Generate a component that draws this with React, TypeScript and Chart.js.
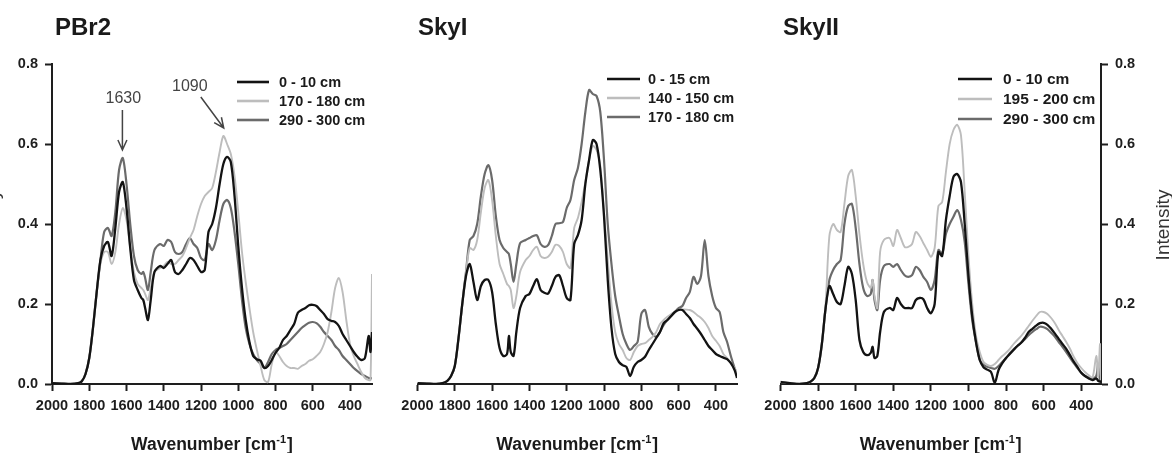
import React, { useEffect, useRef } from 'react';
import { Chart, registerables } from 'chart.js';

Chart.register(...registerables);

const FONT = '"Liberation Sans", Arial, Helvetica, sans-serif';
const PAGE_W = 1172;
const PAGE_H = 453;
const PLOT_TOP = 64;
const PLOT_BOTTOM = 384;

// Axis ticks
const WAVENUMBER_TICKS = [2000, 1800, 1600, 1400, 1200, 1000, 800, 600, 400];
const INTENSITY_TICKS = [0, 0.2, 0.4, 0.6, 0.8];

// Shared wavenumber sampling (cm-1), 2000 -> 340
const WN_COMMON = [
  2000, 1950, 1900, 1860, 1840, 1820, 1800, 1780, 1760, 1740,
  1720, 1700, 1680, 1660, 1640, 1620, 1600, 1580, 1560, 1540,
  1520, 1510, 1500, 1485, 1470, 1450, 1420, 1400, 1380, 1360,
  1340, 1320, 1300, 1280, 1260, 1240, 1220, 1200, 1180, 1160,
  1140, 1120, 1100, 1080, 1060, 1040, 1020, 1000, 980, 960,
  940, 920, 900, 880, 860, 840, 820, 800, 780, 760,
  740, 720, 700, 680, 660, 640, 620, 600, 580, 560,
  540, 520, 500, 480, 460, 440, 420, 400, 380, 360,
  340,
];
const PBR2_WN = [...WN_COMMON, 320, 300, 290, 282];
const SKYI_WN = [...WN_COMMON, 320, 300, 290, 287];
const SKYII_WN = [...WN_COMMON, 320, 310, 300, 295];

// PBr2 profile
const PBR2_0_10 = [
  0.002, 0.001, 0, 0.002, 0.007, 0.025, 0.065, 0.14, 0.23, 0.31,
  0.345, 0.355, 0.32, 0.39, 0.48, 0.505, 0.44, 0.34, 0.26, 0.235,
  0.215, 0.21, 0.19, 0.16, 0.21, 0.28, 0.295, 0.29, 0.30, 0.31,
  0.28, 0.275, 0.285, 0.30, 0.315, 0.31, 0.295, 0.28, 0.285, 0.38,
  0.40, 0.44, 0.50, 0.55, 0.568, 0.555, 0.47, 0.345, 0.24, 0.16,
  0.105, 0.07, 0.062, 0.058, 0.04, 0.045, 0.06, 0.078, 0.09, 0.11,
  0.12, 0.135, 0.15, 0.178, 0.185, 0.19, 0.197, 0.198, 0.195, 0.185,
  0.175, 0.162, 0.158, 0.155, 0.145, 0.125, 0.11, 0.095, 0.08, 0.068,
  0.06, 0.065, 0.12, 0.08, 0.13,
];
const PBR2_170_180 = [
  0.002, 0.001, 0, 0.002, 0.007, 0.025, 0.065, 0.14, 0.23, 0.30,
  0.33, 0.33, 0.30, 0.33, 0.40, 0.44, 0.41, 0.34, 0.28, 0.25,
  0.24, 0.235, 0.225, 0.21, 0.24, 0.28, 0.29, 0.295, 0.305, 0.30,
  0.30, 0.31, 0.32, 0.34, 0.365, 0.385, 0.42, 0.45, 0.47, 0.48,
  0.49, 0.53, 0.58, 0.62, 0.60, 0.575, 0.52, 0.43, 0.33, 0.255,
  0.19, 0.13, 0.085, 0.045, 0.01, 0.005, 0.05, 0.08, 0.07, 0.055,
  0.045, 0.04, 0.04, 0.038, 0.045, 0.05, 0.058, 0.062, 0.07, 0.08,
  0.10, 0.13, 0.18, 0.24, 0.265, 0.23, 0.16, 0.10, 0.07, 0.05,
  0.03, 0.015, 0.01, 0.01, 0.275,
];
const PBR2_290_300 = [
  0.002, 0.001, 0, 0.002, 0.007, 0.025, 0.065, 0.14, 0.23, 0.31,
  0.38, 0.39, 0.37, 0.43, 0.535, 0.565, 0.50, 0.40, 0.32, 0.285,
  0.275, 0.28, 0.265, 0.235, 0.28, 0.335, 0.35, 0.345, 0.36, 0.355,
  0.33, 0.325, 0.33, 0.35, 0.365, 0.35, 0.34, 0.315, 0.31, 0.35,
  0.335, 0.36, 0.41, 0.45, 0.46, 0.44, 0.38, 0.30, 0.21, 0.14,
  0.10, 0.075, 0.06, 0.05, 0.04, 0.055, 0.075, 0.085, 0.09, 0.095,
  0.10, 0.11, 0.12, 0.13, 0.14, 0.147, 0.153, 0.155, 0.152, 0.143,
  0.13, 0.12, 0.11, 0.095, 0.085, 0.07, 0.06, 0.05, 0.04, 0.032,
  0.025, 0.02, 0.015, 0.014, 0.015,
];

// SkyI profile
const SKYI_0_15 = [
  0.002, 0.001, 0, 0.003, 0.008, 0.02, 0.045, 0.115, 0.2, 0.27,
  0.30, 0.255, 0.21, 0.245, 0.26, 0.26, 0.23, 0.15, 0.09, 0.07,
  0.075, 0.12, 0.08, 0.07, 0.13, 0.19, 0.22, 0.225, 0.245, 0.262,
  0.235, 0.228, 0.226, 0.245, 0.268, 0.272, 0.245, 0.215, 0.21, 0.35,
  0.372, 0.41, 0.50, 0.56, 0.61, 0.60, 0.535, 0.42, 0.26, 0.14,
  0.075, 0.055, 0.047, 0.043, 0.02, 0.043, 0.055, 0.06, 0.068, 0.085,
  0.1, 0.115, 0.13, 0.152, 0.16, 0.17, 0.18, 0.185, 0.185, 0.175,
  0.165, 0.15, 0.138, 0.125, 0.11, 0.095, 0.085, 0.075, 0.07, 0.066,
  0.062, 0.052, 0.035, 0.02, 0.015,
];
const SKYI_140_150 = [
  0.002, 0.001, 0, 0.003, 0.008, 0.02, 0.045, 0.115, 0.2, 0.28,
  0.34, 0.335, 0.36, 0.43, 0.49, 0.51, 0.46, 0.37, 0.30, 0.275,
  0.25, 0.245, 0.235, 0.19, 0.22, 0.28, 0.31, 0.32, 0.335, 0.343,
  0.32, 0.315, 0.318, 0.33, 0.348, 0.345, 0.33, 0.30, 0.29, 0.39,
  0.415, 0.455, 0.505, 0.56, 0.595, 0.585, 0.545, 0.43, 0.31, 0.2,
  0.13, 0.1, 0.085, 0.065, 0.06, 0.08, 0.095, 0.1, 0.102, 0.11,
  0.118, 0.13, 0.15, 0.16, 0.168, 0.175, 0.18, 0.185, 0.186, 0.186,
  0.185, 0.18, 0.172, 0.165, 0.155, 0.14, 0.12, 0.108, 0.095, 0.075,
  0.065, 0.052, 0.04, 0.03, 0.02,
];
const SKYI_170_180 = [
  0.002, 0.001, 0, 0.003, 0.008, 0.02, 0.045, 0.115, 0.2, 0.28,
  0.36, 0.37, 0.40, 0.47, 0.525, 0.547, 0.51, 0.42, 0.36, 0.34,
  0.33, 0.325, 0.30, 0.255, 0.30, 0.352, 0.36, 0.365, 0.37, 0.372,
  0.35, 0.343, 0.347, 0.37, 0.40, 0.402, 0.405, 0.44, 0.46, 0.51,
  0.54, 0.60, 0.68, 0.735, 0.725, 0.72, 0.68, 0.56, 0.40, 0.30,
  0.22, 0.17, 0.125, 0.1, 0.085, 0.095, 0.105, 0.175, 0.185, 0.143,
  0.125, 0.118, 0.13, 0.148, 0.16, 0.17, 0.18, 0.19, 0.195, 0.215,
  0.23, 0.268, 0.25, 0.27, 0.36, 0.27, 0.22, 0.19, 0.18, 0.13,
  0.105, 0.07, 0.04, 0.025, 0.02,
];

// SkyII profile
const SKYII_0_10 = [
  0.005, 0.002, 0, 0.002, 0.006, 0.015, 0.04, 0.1, 0.19, 0.245,
  0.225, 0.205, 0.2, 0.245, 0.293, 0.275, 0.21, 0.11, 0.08, 0.072,
  0.078, 0.093, 0.065, 0.07, 0.13, 0.18, 0.19, 0.185, 0.215, 0.2,
  0.19, 0.19, 0.19, 0.21, 0.215, 0.212, 0.19, 0.177, 0.2, 0.33,
  0.32, 0.41, 0.47, 0.518, 0.525, 0.505, 0.40, 0.27, 0.17, 0.105,
  0.06, 0.042, 0.036, 0.03, 0.003, 0.035, 0.052, 0.065, 0.075, 0.085,
  0.095, 0.103, 0.115, 0.13, 0.138, 0.146, 0.152, 0.153, 0.148, 0.138,
  0.126, 0.113, 0.1, 0.088, 0.072, 0.056, 0.042, 0.028, 0.02, 0.014,
  0.01, 0.014, 0.008, 0.006, 0.005,
];
const SKYII_195_200 = [
  0.005, 0.002, 0, 0.002, 0.006, 0.015, 0.04, 0.1, 0.2, 0.37,
  0.40, 0.385, 0.38, 0.45, 0.52, 0.535, 0.47, 0.375, 0.30, 0.255,
  0.24, 0.26, 0.22, 0.19, 0.33, 0.36, 0.365, 0.345, 0.385, 0.365,
  0.343, 0.343, 0.35, 0.38, 0.37, 0.352, 0.335, 0.318, 0.34, 0.445,
  0.455, 0.53, 0.6, 0.635, 0.648, 0.622, 0.48, 0.32, 0.2, 0.12,
  0.08, 0.055, 0.048, 0.045, 0.05, 0.06, 0.07, 0.078, 0.088, 0.1,
  0.11, 0.12, 0.132, 0.145, 0.158, 0.17, 0.18, 0.18, 0.175, 0.165,
  0.152, 0.135, 0.12, 0.105, 0.088, 0.068, 0.052, 0.04, 0.03, 0.022,
  0.016, 0.07, 0.02, 0.1, 0.01,
];
const SKYII_290_300 = [
  0.005, 0.002, 0, 0.002, 0.006, 0.015, 0.04, 0.1, 0.19, 0.26,
  0.285, 0.30, 0.31, 0.40, 0.445, 0.45, 0.39, 0.30, 0.24, 0.22,
  0.225, 0.26, 0.21, 0.185, 0.26, 0.295, 0.30, 0.293, 0.30, 0.285,
  0.272, 0.268, 0.272, 0.293, 0.285, 0.268, 0.255, 0.235, 0.26, 0.335,
  0.325, 0.375, 0.40, 0.418, 0.435, 0.41, 0.355, 0.25, 0.16, 0.105,
  0.06, 0.048, 0.043, 0.04, 0.038, 0.045, 0.055, 0.065, 0.077, 0.087,
  0.095, 0.103, 0.112, 0.122, 0.13, 0.137, 0.143, 0.142, 0.137, 0.128,
  0.118, 0.105, 0.093, 0.08, 0.066, 0.052, 0.04, 0.028, 0.02, 0.016,
  0.013, 0.02, 0.05, 0.008, 0.005,
];

// Band markers on the PBr2 panel (data coordinates)
const PBR2_MARKERS = [
  { text: '1630', labelX: 1617, labelY: 0.714, fromX: 1622, fromY: 0.685, toX: 1622, toY: 0.585 },
  { text: '1090', labelX: 1260, labelY: 0.744, fromX: 1201, fromY: 0.7175, toX: 1078, toY: 0.64 },
];

// Line styles for the three depth series (top, middle, deep)
const SERIES_STYLES = [
  { color: '#131313', width: 2.3 },
  { color: '#bdbdbd', width: 1.9 },
  { color: '#6b6b6b', width: 2.2 },
];

type Series = { label: string; values: number[] };
type Legend = { lineFrom: number; lineTo: number; textX: number; rowsY: number[]; fontSize: number };
type Marker = typeof PBR2_MARKERS[number];
type PanelSpec = {
  key: string;
  title: string;
  titleX: number;
  canvasLeft: number;
  canvasWidth: number;
  padLeft: number;
  padRight: number;
  yAxis: 'left' | 'right' | 'none';
  yAxisWidth: number;
  xMin: number;
  wn: number[];
  series: Series[];
  legend: Legend;
  markers?: Marker[];
  sideTitleX?: number;
};

const PANELS: PanelSpec[] = [
  {
    key: 'pbr2', title: 'PBr2', titleX: 55,
    canvasLeft: 0, canvasWidth: 390, padLeft: 0, padRight: 18,
    yAxis: 'left', yAxisWidth: 52, xMin: 282, wn: PBR2_WN,
    series: [
      { label: '0 - 10 cm', values: PBR2_0_10 },
      { label: '170 - 180 cm', values: PBR2_170_180 },
      { label: '290 - 300 cm', values: PBR2_290_300 },
    ],
    legend: { lineFrom: 237, lineTo: 269, textX: 279, rowsY: [82, 101, 120], fontSize: 14.5 },
    markers: PBR2_MARKERS,
    sideTitleX: -1,
  },
  {
    key: 'skyi', title: 'SkyI', titleX: 28,
    canvasLeft: 390, canvasWidth: 380, padLeft: 27.5, padRight: 33,
    yAxis: 'none', yAxisWidth: 0, xMin: 287, wn: SKYI_WN,
    series: [
      { label: '0 - 15 cm', values: SKYI_0_15 },
      { label: '140 - 150 cm', values: SKYI_140_150 },
      { label: '170 - 180 cm', values: SKYI_170_180 },
    ],
    legend: { lineFrom: 217, lineTo: 250, textX: 258, rowsY: [79, 98, 117], fontSize: 14.5 },
  },
  {
    key: 'skyii', title: 'SkyII', titleX: 38,
    canvasLeft: 745, canvasWidth: 427, padLeft: 35.5, padRight: 0,
    yAxis: 'right', yAxisWidth: 71, xMin: 295, wn: SKYII_WN,
    series: [
      { label: '0 - 10 cm', values: SKYII_0_10 },
      { label: '195 - 200 cm', values: SKYII_195_200 },
      { label: '290 - 300 cm', values: SKYII_290_300 },
    ],
    legend: { lineFrom: 213, lineTo: 247, textX: 258, rowsY: [79, 99, 119], fontSize: 15.5 },
    sideTitleX: 424,
  },
];

const AXIS_COLOR = '#1e1e1e';
const TEXT_COLOR = '#1a1a1a';

function drawArrow(ctx: CanvasRenderingContext2D, x0: number, y0: number, x1: number, y1: number) {
  const dx = x1 - x0;
  const dy = y1 - y0;
  const len = Math.hypot(dx, dy) || 1;
  const ux = dx / len;
  const uy = dy / len;
  const px = -uy;
  const py = ux;
  ctx.beginPath();
  ctx.moveTo(x0, y0);
  ctx.lineTo(x1, y1);
  ctx.moveTo(x1 - ux * 10 + px * 4.5, y1 - uy * 10 + py * 4.5);
  ctx.lineTo(x1, y1);
  ctx.lineTo(x1 - ux * 10 - px * 4.5, y1 - uy * 10 - py * 4.5);
  ctx.stroke();
}

function drawSideTitle(ctx: CanvasRenderingContext2D, x: number, y: number) {
  ctx.save();
  ctx.translate(x, y);
  ctx.rotate(-Math.PI / 2);
  ctx.font = `19px ${FONT}`;
  ctx.fillStyle = '#333';
  ctx.textAlign = 'center';
  ctx.textBaseline = 'alphabetic';
  ctx.fillText('Intensity', 0, 0);
  ctx.restore();
}

function drawWavenumberTitle(ctx: CanvasRenderingContext2D, cx: number, baseline: number) {
  const main = 'Wavenumber [cm';
  const sup = '-1';
  const end = ']';
  const mainFont = `bold 17.5px ${FONT}`;
  const supFont = `bold 11px ${FONT}`;
  ctx.font = mainFont;
  const w1 = ctx.measureText(main).width;
  const w3 = ctx.measureText(end).width;
  ctx.font = supFont;
  const w2 = ctx.measureText(sup).width;
  let x = cx - (w1 + w2 + w3 + 1) / 2;
  ctx.fillStyle = TEXT_COLOR;
  ctx.textAlign = 'left';
  ctx.textBaseline = 'alphabetic';
  ctx.font = mainFont;
  ctx.fillText(main, x, baseline);
  x += w1;
  ctx.font = supFont;
  ctx.fillText(sup, x, baseline - 7);
  x += w2 + 1;
  ctx.font = mainFont;
  ctx.fillText(end, x, baseline);
}

function decorations(panel: PanelSpec) {
  return {
    id: `decor-${panel.key}`,
    afterDraw(chart: Chart) {
      const ctx = chart.ctx;
      const area = chart.chartArea;
      const xs = chart.scales.x;
      const ys = chart.scales.y;
      ctx.save();

      // panel title
      ctx.font = `bold 24px ${FONT}`;
      ctx.fillStyle = TEXT_COLOR;
      ctx.textAlign = 'left';
      ctx.textBaseline = 'alphabetic';
      ctx.fillText(panel.title, panel.titleX, 35);

      // legend
      const lg = panel.legend;
      panel.series.forEach((s, i) => {
        const y = lg.rowsY[i];
        const st = SERIES_STYLES[i];
        ctx.strokeStyle = st.color;
        ctx.lineWidth = 2.6;
        ctx.lineCap = 'butt';
        ctx.beginPath();
        ctx.moveTo(lg.lineFrom, y);
        ctx.lineTo(lg.lineTo, y);
        ctx.stroke();
        ctx.font = `bold ${lg.fontSize}px ${FONT}`;
        ctx.fillStyle = TEXT_COLOR;
        ctx.textBaseline = 'middle';
        ctx.fillText(s.label, lg.textX, y + 0.5);
      });

      // band markers
      if (panel.markers) {
        ctx.strokeStyle = '#444';
        ctx.fillStyle = '#444';
        ctx.lineWidth = 1.5;
        ctx.font = `16px ${FONT}`;
        ctx.textAlign = 'center';
        ctx.textBaseline = 'middle';
        panel.markers.forEach((m) => {
          ctx.fillText(m.text, xs.getPixelForValue(m.labelX), ys.getPixelForValue(m.labelY));
          drawArrow(
            ctx,
            xs.getPixelForValue(m.fromX), ys.getPixelForValue(m.fromY),
            xs.getPixelForValue(m.toX), ys.getPixelForValue(m.toY),
          );
        });
      }

      // axis titles
      drawWavenumberTitle(ctx, (area.left + area.right) / 2, 450);
      if (panel.sideTitleX !== undefined) {
        drawSideTitle(ctx, panel.sideTitleX, 225);
      }
      ctx.restore();
    },
  };
}

function buildConfig(panel: PanelSpec): any {
  const tickFont = { family: FONT, size: 14.5, weight: 'bold' as const };
  const datasets = panel.series.map((s, i) => ({
    label: s.label,
    data: panel.wn.map((x, j) => ({ x, y: s.values[j] })).reverse(),
    borderColor: SERIES_STYLES[i].color,
    borderWidth: SERIES_STYLES[i].width,
    pointRadius: 0,
    tension: 0.3,
    fill: false,
    borderJoinStyle: 'round',
  }));
  const axisGrid = {
    display: true,
    drawOnChartArea: false,
    drawTicks: true,
    tickLength: 7,
    tickWidth: 2,
    tickColor: AXIS_COLOR,
  };
  return {
    type: 'line',
    data: { datasets },
    options: {
      responsive: false,
      maintainAspectRatio: false,
      animation: false,
      events: [],
      layout: { padding: { top: PLOT_TOP, bottom: 0, left: panel.padLeft, right: panel.padRight } },
      plugins: { legend: { display: false }, tooltip: { enabled: false }, title: { display: false } },
      scales: {
        x: {
          type: 'linear',
          reverse: true,
          min: panel.xMin,
          max: 2000,
          afterBuildTicks: (s: any) => {
            s.ticks = [...WAVENUMBER_TICKS].sort((a, b) => a - b).map((value) => ({ value }));
          },
          afterFit: (s: any) => {
            s.height = PAGE_H - PLOT_BOTTOM;
          },
          ticks: {
            autoSkip: false,
            maxRotation: 0,
            minRotation: 0,
            padding: 6,
            color: AXIS_COLOR,
            font: tickFont,
            callback: (v: number | string) => String(v),
          },
          grid: axisGrid,
          border: { display: true, color: AXIS_COLOR, width: 2 },
        },
        y: {
          type: 'linear',
          display: panel.yAxis !== 'none',
          position: panel.yAxis === 'right' ? 'right' : 'left',
          min: 0,
          max: 0.8,
          afterBuildTicks: (s: any) => {
            s.ticks = INTENSITY_TICKS.map((value) => ({ value }));
          },
          afterFit: (s: any) => {
            s.width = panel.yAxisWidth;
          },
          ticks: {
            padding: 7,
            color: AXIS_COLOR,
            font: tickFont,
            callback: (v: number | string) => Number(v).toFixed(1),
          },
          grid: axisGrid,
          border: { display: true, color: AXIS_COLOR, width: 2 },
        },
      },
    },
    plugins: [decorations(panel)],
  };
}

function SpectrumPanel({ panel }: { panel: PanelSpec }) {
  const ref = useRef<HTMLCanvasElement | null>(null);
  useEffect(() => {
    if (!ref.current) return;
    const chart = new Chart(ref.current, buildConfig(panel));
    return () => chart.destroy();
  }, [panel]);
  return (
    <canvas
      ref={ref}
      width={panel.canvasWidth}
      height={PAGE_H}
      style={{
        position: 'absolute',
        left: panel.canvasLeft,
        top: 0,
        width: panel.canvasWidth,
        height: PAGE_H,
      }}
    />
  );
}

export default function App() {
  return (
    <div
      style={{
        position: 'fixed',
        left: 0,
        top: 0,
        width: PAGE_W,
        height: PAGE_H,
        background: '#ffffff',
        overflow: 'hidden',
      }}
    >
      {PANELS.map((p) => (
        <SpectrumPanel key={p.key} panel={p} />
      ))}
    </div>
  );
}
